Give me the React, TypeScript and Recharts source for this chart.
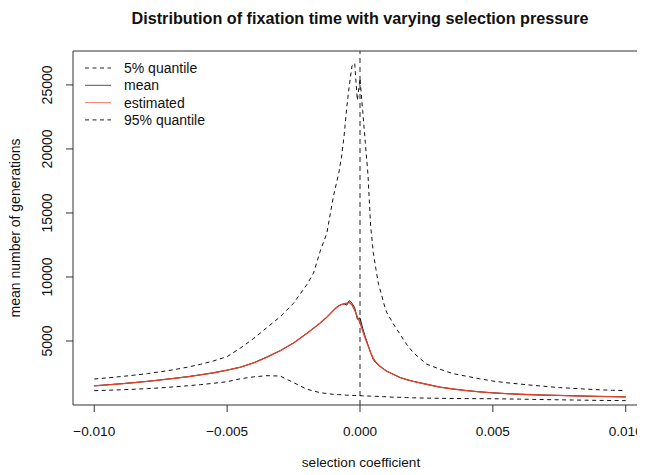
import React from "react";
import { LineChart, Line, XAxis, YAxis, ReferenceLine } from "recharts";

// selection coefficient values (x)
const selection = [
  -0.01, -0.0095, -0.009, -0.0085, -0.008, -0.0075, -0.007, -0.0065, -0.006,
  -0.0055, -0.005, -0.0045, -0.004, -0.0035, -0.003, -0.0025, -0.002,
  -0.00175, -0.0015, -0.00125, -0.001, -0.0009, -0.0008, -0.0007, -0.0006,
  -0.0005, -0.0004, -0.0003, -0.0002, -0.0001, 0, 0.0001, 0.0002, 0.0003,
  0.0004, 0.0005, 0.0006, 0.0007, 0.0008, 0.0009, 0.001, 0.00125, 0.0015,
  0.00175, 0.002, 0.0025, 0.003, 0.0035, 0.004, 0.0045, 0.005, 0.0055, 0.006,
  0.0065, 0.007, 0.0075, 0.008, 0.0085, 0.009, 0.0095, 0.01,
];

const lowerQuantile = [
  1120, 1150, 1190, 1230, 1280, 1340, 1420, 1500, 1590, 1700, 1820, 2050,
  2200, 2290, 2260, 1750, 1230, 1100, 960, 900, 830, 820, 810, 800, 780, 770,
  760, 750, 740, 735, 730, 720, 710, 700, 690, 680, 675, 665, 660, 650, 640,
  610, 600, 580, 560, 540, 520, 510, 500, 495, 490, 475, 460, 440, 420, 405,
  390, 375, 360, 350, 340,
];

const meanGen = [
  1500, 1580, 1660, 1750, 1850, 1960, 2080, 2210, 2360, 2520, 2720, 2950,
  3300, 3750, 4250, 4850, 5600, 6000, 6400, 6850, 7400, 7600, 7750, 7850,
  7900, 7800, 8150, 7950, 7600, 6700, 6800, 6000, 5300, 4700, 4100, 3550,
  3300, 3100, 2950, 2800, 2650, 2400, 2150, 1990, 1850, 1620, 1400, 1250,
  1130, 1030, 950, 890, 840, 800, 770, 745, 720, 695, 670, 650, 630,
];

const estimatedGen = [
  1490, 1570, 1655, 1745, 1845, 1955, 2075, 2205, 2355, 2520, 2720, 2950,
  3290, 3740, 4240, 4840, 5580, 5990, 6400, 6860, 7380, 7580, 7740, 7850,
  7900, 7950, 8000, 7800, 7400, 6900, 6400, 5800, 5200, 4650, 4100, 3650,
  3350, 3120, 2950, 2790, 2650, 2400, 2160, 1990, 1850, 1620, 1400, 1250,
  1130, 1030, 950, 890, 840, 800, 770, 745, 720, 695, 670, 650, 630,
];

const upperQuantile = [
  2030, 2120, 2220, 2330, 2450, 2600, 2760, 2950, 3180, 3450, 3780, 4450,
  5200, 6050, 6900, 7950, 9400, 10300, 12000, 13400, 16300, 17200, 18100,
  19300, 21000, 23200, 25000, 26500, 26700, 23800, 25500, 23000, 20500, 18000,
  14000, 11900, 10600, 9400, 8700, 7900, 7250, 6350, 5550, 4750, 4100, 3200,
  2800, 2450, 2250, 2050, 1870, 1740, 1640, 1540, 1450, 1360, 1300, 1240,
  1190, 1150, 1130,
];

const xTicks = [-0.01, -0.005, 0, 0.005, 0.01];
const yTicks = [5000, 10000, 15000, 20000, 25000];

const data = selection.map((s, i) => ({
  s,
  lower: lowerQuantile[i],
  mean: meanGen[i],
  estimated: estimatedGen[i],
  upper: upperQuantile[i],
}));

const FONT = "'Liberation Sans', Arial, Helvetica, sans-serif";
const DASH = "4 3.5";
const RED = "#e3402a";

const legendItems = [
  { label: "5% quantile", color: "#222", dash: DASH },
  { label: "mean", color: "#555", dash: undefined },
  { label: "estimated", color: "#f0806e", dash: undefined },
  { label: "95% quantile", color: "#222", dash: DASH },
];

const fmtX = (v: number) =>
  v < 0 ? "\u2212" + Math.abs(v).toFixed(3) : v.toFixed(3);

const XTick = ({ x, payload }: any) => (
  <text x={x} y={435.5} textAnchor="middle" fontSize={13.6} fill="#111" fontFamily={FONT}>
    {fmtX(payload.value)}
  </text>
);

const YTick = ({ y, payload }: any) => (
  <text
    x={52.5}
    y={y}
    textAnchor="middle"
    fontSize={14}
    fill="#111"
    fontFamily={FONT}
    transform={`rotate(-90, 52.5, ${y})`}
  >
    {payload.value}
  </text>
);

export default function App() {
  return (
    <div
      style={{
        position: "relative",
        width: 645,
        height: 475,
        margin: -8,
        overflow: "hidden",
        background: "#fff",
        fontFamily: FONT,
      }}
    >
      <LineChart
        width={650}
        height={475}
        data={data}
        margin={{ top: 51, right: 3, bottom: 0, left: 0 }}
      >
        <XAxis
          dataKey="s"
          type="number"
          domain={[-0.0108, 0.0108]}
          ticks={xTicks}
          allowDataOverflow
          height={70}
          tickSize={7}
          tick={<XTick />}
          axisLine={{ stroke: "#333" }}
          tickLine={{ stroke: "#333" }}
        />
        <YAxis
          type="number"
          domain={[0, 27650]}
          ticks={yTicks}
          allowDataOverflow
          width={73}
          tickSize={7}
          tick={<YTick />}
          axisLine={{ stroke: "#333" }}
          tickLine={{ stroke: "#333" }}
        />
        <ReferenceLine y={27650} stroke="#333" />
        <ReferenceLine x={0} stroke="#222" strokeDasharray="5 4" />
        <Line
          dataKey="lower"
          stroke="#111"
          strokeWidth={1}
          strokeDasharray={DASH}
          dot={false}
          isAnimationActive={false}
        />
        <Line
          dataKey="upper"
          stroke="#111"
          strokeWidth={1}
          strokeDasharray={DASH}
          dot={false}
          isAnimationActive={false}
        />
        <Line
          dataKey="mean"
          stroke="#111"
          strokeWidth={1}
          dot={false}
          isAnimationActive={false}
        />
        <Line
          dataKey="estimated"
          stroke={RED}
          strokeWidth={1.3}
          dot={false}
          isAnimationActive={false}
        />
      </LineChart>
      <svg
        width={645}
        height={475}
        style={{ position: "absolute", left: 0, top: 0, pointerEvents: "none" }}
      >
        <text
          x={360}
          y={24}
          textAnchor="middle"
          fontSize={16.2}
          fontWeight="bold"
          fill="#111"
          fontFamily={FONT}
        >
          Distribution of fixation time with varying selection pressure
        </text>
        <text x={361} y={467} textAnchor="middle" fontSize={13.6} fill="#111" fontFamily={FONT}>
          selection coefficient
        </text>
        <text
          x={20}
          y={228}
          textAnchor="middle"
          fontSize={14}
          fill="#111"
          fontFamily={FONT}
          transform="rotate(-90, 20, 228)"
        >
          mean number of generations
        </text>
        {legendItems.map((it, i) => (
          <g key={it.label}>
            <line
              x1={85}
              x2={111}
              y1={68 + i * 17.3}
              y2={68 + i * 17.3}
              stroke={it.color}
              strokeWidth={1}
              strokeDasharray={it.dash}
            />
            <text
              x={124}
              y={73 + i * 17.3}
              fontSize={14}
              fill="#111"
              fontFamily={FONT}
            >
              {it.label}
            </text>
          </g>
        ))}
      </svg>
    </div>
  );
}
